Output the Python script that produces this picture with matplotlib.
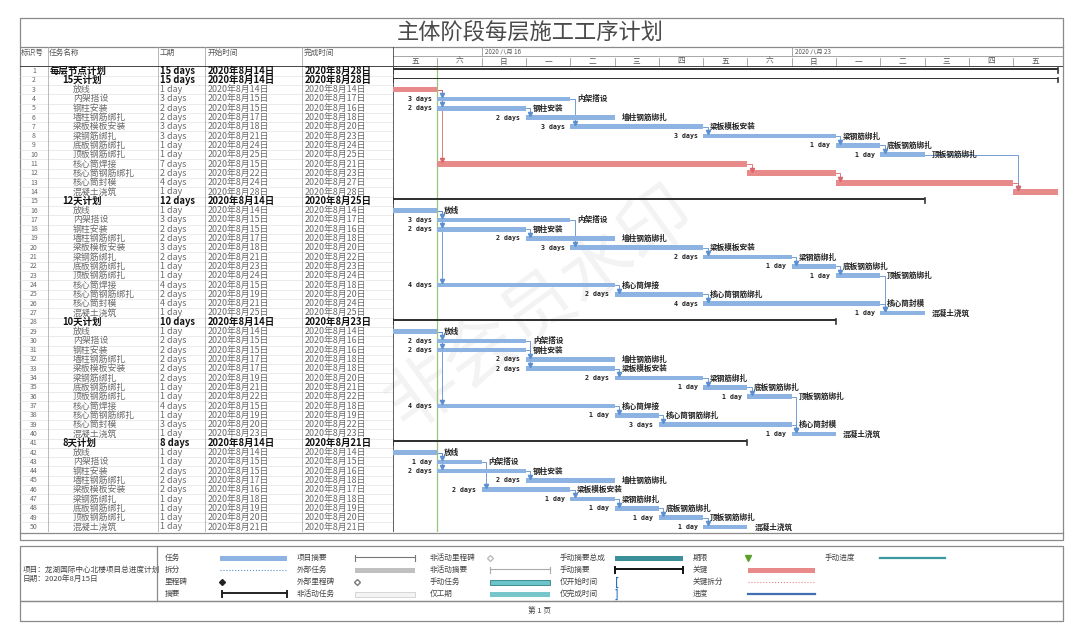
import matplotlib
matplotlib.use("Agg")
import matplotlib.pyplot as plt
from matplotlib.patches import Rectangle

plt.rcParams['font.family'] = ['Noto Sans CJK SC', 'DejaVu Sans']

W, H = 1080, 636

# ---------------- data ----------------
core = ['内架搭设', '钢柱安装', '墙柱钢筋绑扎', '梁板模板安装', '梁钢筋绑扎',
        '底板钢筋绑扎', '顶板钢筋绑扎']
tube = ['核心筒焊接', '核心筒钢筋绑扎', '核心筒封模']
task_names = (['每层节点计划', '15天计划', '放线'] + core + tube + ['混凝土浇筑'] +
              ['12天计划', '放线'] + core + tube + ['混凝土浇筑'] +
              ['10天计划', '放线'] + core + tube + ['混凝土浇筑'] +
              ['8天计划', '放线'] + core + ['混凝土浇筑'])
levels = [0, 1] + [2] * 12 + [1] + [2] * 12 + [1] + [2] * 12 + [1] + [2] * 9
durations = [15, 15, 1, 3, 2, 2, 3, 3, 1, 1, 7, 2, 4, 1,
             12, 1, 3, 2, 2, 3, 2, 1, 1, 4, 2, 4, 1,
             10, 1, 2, 2, 2, 2, 2, 1, 1, 4, 1, 3, 1,
             8, 1, 1, 2, 2, 2, 1, 1, 1, 1]
start_days = [14, 14, 14, 15, 15, 17, 18, 21, 24, 25, 15, 22, 24, 28,
              14, 14, 15, 15, 17, 18, 21, 23, 24, 15, 19, 21, 25,
              14, 14, 15, 15, 17, 17, 19, 21, 22, 15, 19, 20, 23,
              14, 14, 15, 15, 17, 16, 18, 19, 20, 21]
summary_rows = [1, 2, 15, 28, 41]
critical_rows = [3, 11, 12, 13, 14]
preds = {4: [3], 5: [3], 11: [3], 6: [5], 7: [4], 8: [7], 9: [8], 10: [9],
         12: [11], 13: [12], 14: [10, 13],
         17: [16], 18: [16], 24: [16], 19: [18], 20: [17], 21: [20], 22: [21],
         23: [22], 25: [24], 26: [25], 27: [23, 26],
         30: [29], 31: [29], 37: [29], 32: [31], 33: [30], 34: [33], 35: [34],
         36: [35], 38: [37], 39: [38], 40: [36, 39],
         43: [42], 44: [42], 45: [44], 46: [43], 47: [46], 48: [47], 49: [48],
         50: [49]}
first_day = 14
day_labels = ['五', '六', '日', '一', '二', '三', '四', '五', '六', '日',
              '一', '二', '三', '四', '五']
week_starts = [16, 23]
week_labels = ['2020 八月 16', '2020 八月 23']
status_day = 15

BLUE = '#8db3e2'
RED = '#e8898a'
LINK_BLUE = '#5b8fd0'
LINK_RED = '#d9666a'

n = len(task_names)
rows = list(range(1, n + 1))


def rect(x0, y0, x1, y1):
    return [x0 / W, 1 - y1 / H, (x1 - x0) / W, (y1 - y0) / H]


fig = plt.figure(figsize=(W / 100, H / 100), dpi=100)

# ---------------- background / frames ----------------
bg = fig.add_axes([0, 0, 1, 1])
bg.set_xlim(0, W)
bg.set_ylim(H, 0)
bg.axis('off')
frame = dict(fill=False, ec='#8a8a8a', lw=0.9)
bg.add_patch(Rectangle((20, 18), 1043, 522, **frame))
bg.add_patch(Rectangle((20, 546), 1043, 55, **frame))
bg.add_patch(Rectangle((20, 601), 1043, 20, **frame))
bg.plot([20, 1063], [47, 47], color='#8a8a8a', lw=0.9)
bg.plot([20, 1063], [532.5, 532.5], color='#8a8a8a', lw=0.9)
bg.plot([157, 157], [546, 601], color='#8a8a8a', lw=0.9)
bg.text(530, 33, '主体阶段每层施工工序计划', fontsize=16, color='#4a4a4a',
        ha='center', va='center')
bg.text(540, 611, '第 1 页', fontsize=5.5, color='#444', ha='center', va='center')
bg.text(540, 308, '非会员水印', fontsize=52, rotation=36, color='#000',
        alpha=0.05, ha='center', va='center')

# legend
lx = [165, 297, 430, 560, 693, 825]
ly = [558, 570, 582, 594]
leg_labels = [['任务', '拆分', '里程碑', '摘要'],
              ['项目摘要', '外部任务', '外部里程碑', '非活动任务'],
              ['非活动里程碑', '非活动摘要', '手动任务', '仅工期'],
              ['手动摘要总成', '手动摘要', '仅开始时间', '仅完成时间'],
              ['期限', '关键', '关键拆分', '进度'],
              ['手动进度']]
for ci, col in enumerate(leg_labels):
    for ri, lab in enumerate(col):
        bg.text(lx[ci], ly[ri], lab, fontsize=5.5, color='#444', va='center')


def leg_bar(x0, x1, y, fc, ec='none', h=5):
    bg.add_patch(Rectangle((x0, y - h / 2), x1 - x0, h, fc=fc, ec=ec, lw=0.6))


def leg_bracket(x0, x1, y, c, lw=1.4):
    bg.plot([x0, x1], [y - 1.5, y - 1.5], color=c, lw=lw)
    bg.plot([x0, x0], [y - 3, y + 3], color=c, lw=lw)
    bg.plot([x1, x1], [y - 3, y + 3], color=c, lw=lw)


leg_bar(220, 287, ly[0], BLUE)
bg.plot([220, 287], [ly[1], ly[1]], color=LINK_BLUE, lw=0.8, ls=':')
bg.plot(222, ly[2], 'D', color='#222', ms=3)
leg_bracket(222, 287, ly[3], '#222')
leg_bracket(355, 415, ly[0], '#777', lw=0.8)
leg_bar(355, 415, ly[1], '#c0c0c0')
bg.plot(357, ly[2], 'D', mfc='none', mec='#777', ms=3)
leg_bar(355, 415, ly[3], '#f4f4f4', ec='#d0d0d0')
bg.plot(490, ly[0], 'D', mfc='none', mec='#bbb', ms=3)
leg_bracket(490, 550, ly[1], '#aaa', lw=0.8)
leg_bar(490, 550, ly[2], '#6cc3c9', ec='#2f7f86')
leg_bar(490, 550, ly[3], '#76c6cc')
leg_bar(615, 683, ly[0], '#3a8f98')
leg_bracket(615, 683, ly[1], '#111')
bg.text(615, ly[2], '[', fontsize=7, color='#2a6fc0', va='center', weight='bold')
bg.text(615, ly[3], ']', fontsize=7, color='#2a6fc0', va='center', weight='bold')
bg.plot(748, ly[0], 'v', color='#5aa02c', ms=4)
leg_bar(748, 815, ly[1], RED)
bg.plot([748, 815], [ly[2], ly[2]], color=RED, lw=0.8, ls=':')
bg.plot([748, 815], [ly[3], ly[3]], color='#3f6fb0', lw=1.6)
bg.plot([880, 945], [ly[0], ly[0]], color='#3a9a9f', lw=1.6)
bg.text(23, 570, '项目：龙湖国际中心北楼项目总进度计划', fontsize=5.5, color='#444',
        va='center')
bg.text(23, 579, '日期：2020年8月15日', fontsize=5.5, color='#444', va='center')

# ---------------- table header ----------------
col_lines = [48, 158, 205, 302]
th = fig.add_axes(rect(20, 47, 393, 66.8))
th.set_xlim(20, 393)
th.set_ylim(1, 0)
th.axis('off')
for x, lab in zip([21, 49, 160, 208, 304],
                  ['标识号', '任务名称', '工期', '开始时间', '完成时间']):
    th.text(x, 0.08, lab, fontsize=5.5, color='#555', va='top')
for x in col_lines:
    th.axvline(x, color='#aaa', lw=0.6)
th.axhline(1, color='#444', lw=1.4)

# ---------------- table body ----------------
tb = fig.add_axes(rect(20, 66.8, 393, 532.1))
tb.set_xlim(20, 393)
tb.set_ylim(n + 0.55, 0.55)
tb.axis('off')
for r in rows[:-1]:
    tb.axhline(r + 0.5, color='#dcdcdc', lw=0.4)
for x in col_lines:
    tb.axvline(x, color='#b0b0b0', lw=0.6)
name_x = [50, 62, 73]
for r, name, lev, d, s in zip(rows, task_names, levels, durations, start_days):
    summ = r in summary_rows
    kw = dict(va='center', fontsize=6.8 if summ else 6.4,
              color='#111' if summ else '#6a6a6a',
              weight='bold' if summ else 'normal')
    tb.text(34, r, str(r), ha='center', va='center', fontsize=5, color='#666')
    tb.text(name_x[lev], r, name, **kw)
    tb.text(160, r, f"{d} day" + ("s" if d > 1 else ""), **kw)
    tb.text(208, r, f"2020年8月{s}日", **kw)
    tb.text(305, r, f"2020年8月{s + d - 1}日", **kw)

# ---------------- gantt header ----------------
day_w = 44.3
xmax = (1063 - 393) / day_w
gh = fig.add_axes(rect(393, 47, 1063, 66.8))
gh.set_xlim(0, xmax)
gh.set_ylim(1, 0)
gh.axis('off')
gh.axhline(0.45, color='#999', lw=0.6)
gh.axhline(1, color='#444', lw=1.4)
gh.axvline(0, color='#444', lw=1.2)
for ws, wl in zip(week_starts, week_labels):
    gh.plot([ws - first_day] * 2, [0, 0.45], color='#999', lw=0.6)
    gh.text(ws - first_day + 0.08, 0.24, wl, fontsize=4.5, color='#555',
            va='center')
for i, dl in enumerate(day_labels):
    gh.text(i + 0.5, 0.74, dl, fontsize=5.5, color='#555', ha='center',
            va='center')
    if i > 0:
        gh.plot([i, i], [0.58, 0.92], color='#999', lw=0.6)

# ---------------- gantt body ----------------
g = fig.add_axes(rect(393, 66.8, 1063, 532.1))
g.set_xlim(0, xmax)
g.set_ylim(n + 0.55, 0.55)
g.axis('off')
g.axvline(0, color='#444', lw=1.2)
g.axvline(status_day - first_day, color='#9cc47a', lw=0.9)

off = [s - first_day for s in start_days]

# links
for succ, plist in preds.items():
    for p in plist:
        xe = off[p - 1] + durations[p - 1]
        xs = off[succ - 1] + 0.1
        crit = p in critical_rows and succ in critical_rows
        c = LINK_RED if crit else LINK_BLUE
        g.plot([xe, xs, xs], [p, p, succ - 0.32], color=c, lw=0.6, zorder=1)
        g.plot(xs, succ - 0.4, 'v', color=c, ms=3, zorder=3)

for r, name, d, x0 in zip(rows, task_names, durations, off):
    if r in summary_rows:
        g.barh(r - 0.2, d, left=x0, height=0.2, color='#333', zorder=2)
        for xe in (x0, x0 + d):
            g.plot([xe, xe], [r - 0.3, r + 0.2], color='#333', lw=1.2, zorder=2)
        continue
    if r in critical_rows:
        g.barh(r, d, left=x0, height=0.62, color=RED, zorder=2)
        continue
    g.barh(r, d, left=x0, height=0.5, color=BLUE, zorder=2)
    if x0 > 0:
        g.annotate(f"{d} day" + ("s" if d > 1 else ""), (x0, r),
                   xytext=(-4, 0), textcoords='offset points', ha='right',
                   va='center', fontsize=4.8, weight='bold', color='#222',
                   family='DejaVu Sans Mono')
    g.annotate(name, (x0 + d, r), xytext=(5, 0), textcoords='offset points',
               ha='left', va='center', fontsize=5.5, weight='bold', color='#222')

fig.savefig('out.png', dpi=100, facecolor='white')
